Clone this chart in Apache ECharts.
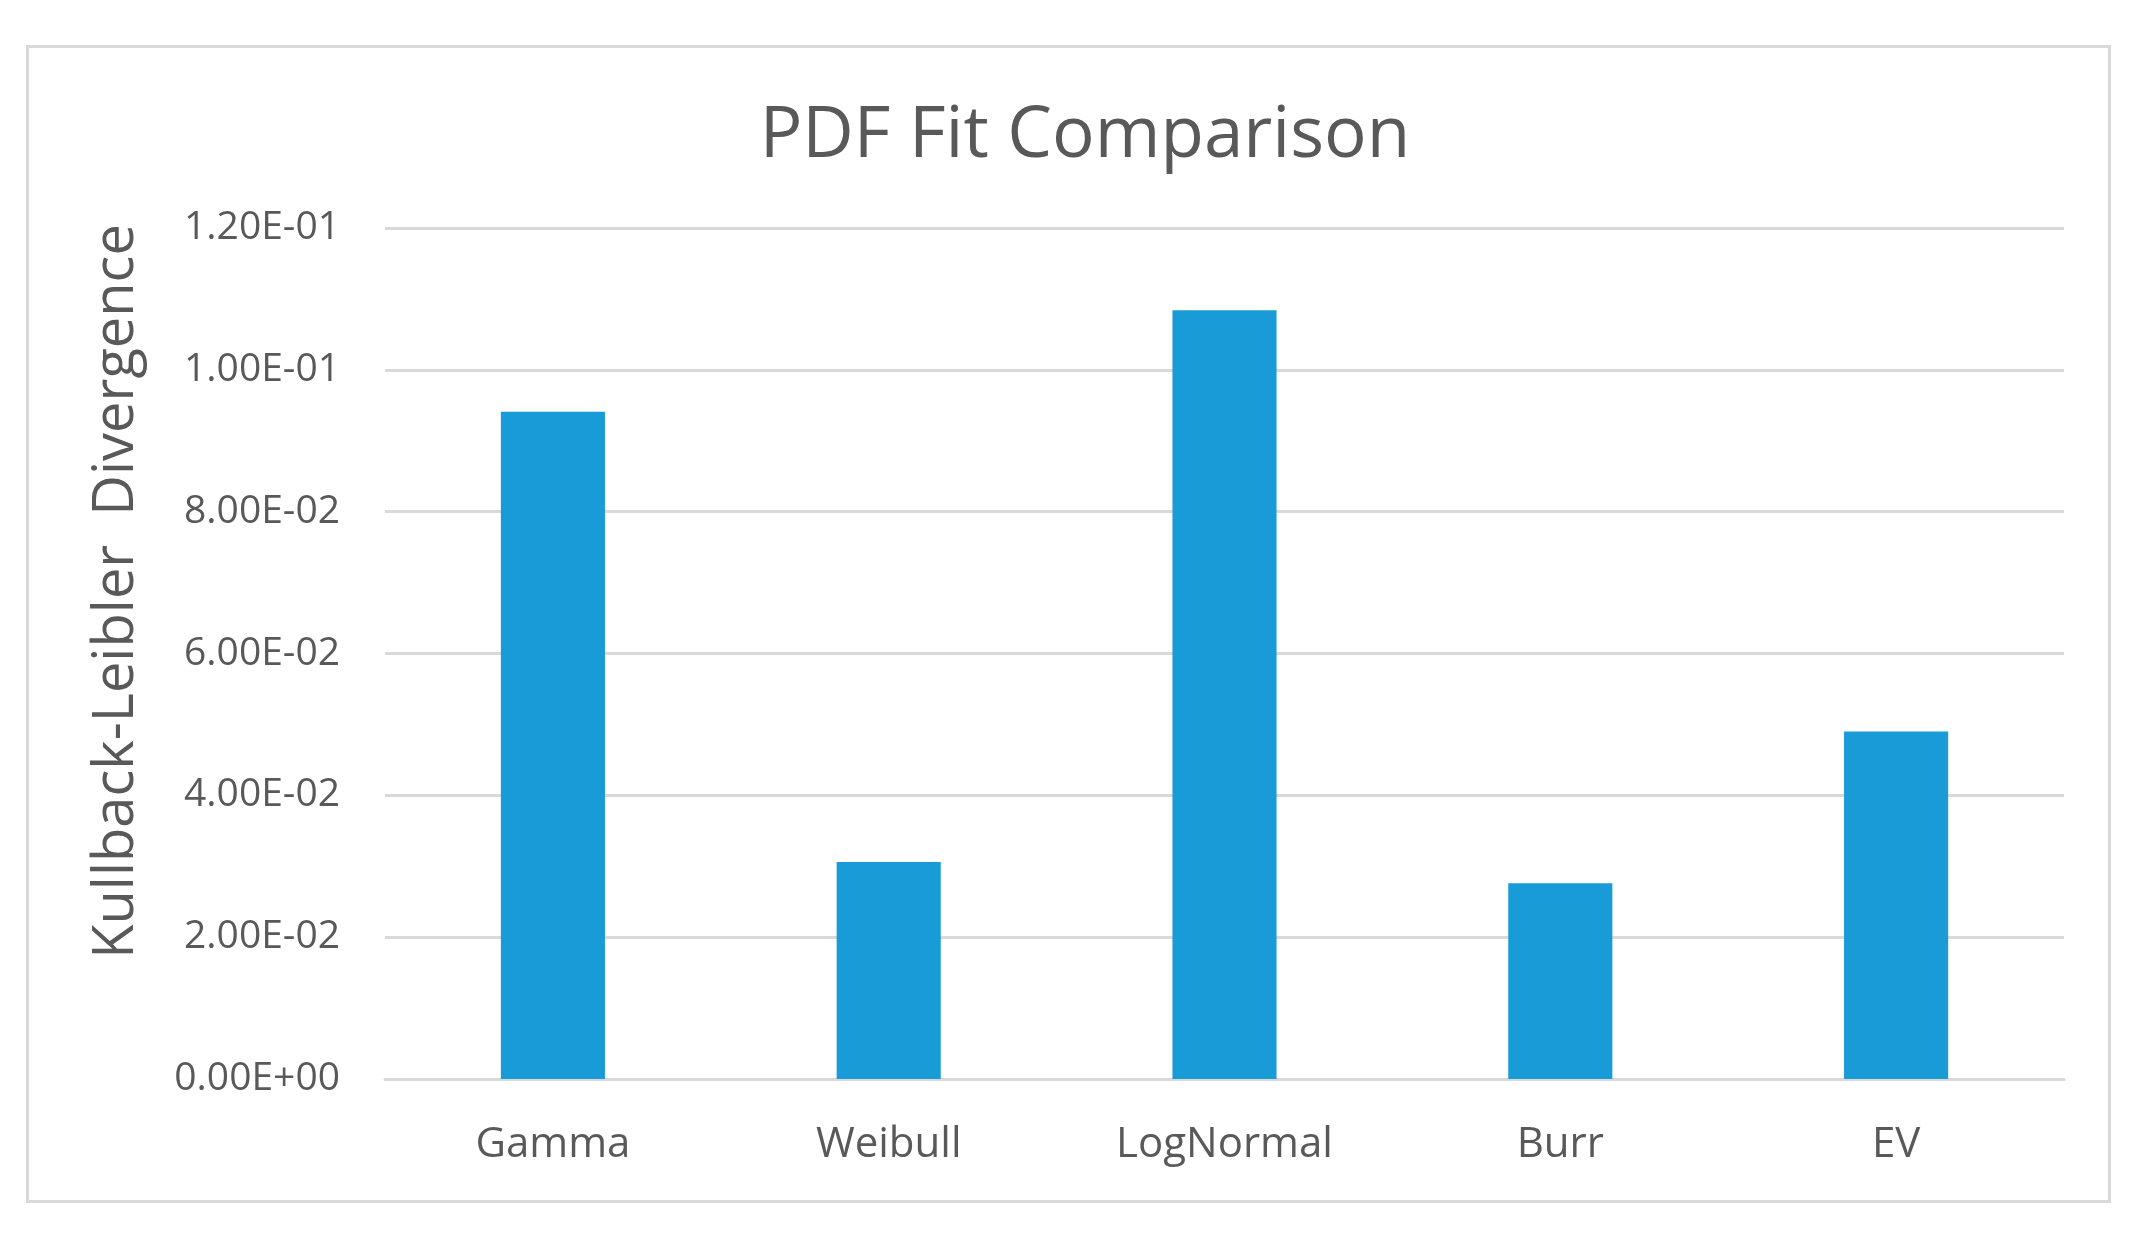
<!DOCTYPE html>
<html>
<head>
<meta charset="utf-8">
<script src="https://cdn.jsdelivr.net/npm/echarts@6/dist/echarts.min.js"></script>
<style>
html,body{margin:0;padding:0;background:#fff;}
#chart{width:2150px;height:1240px;}
</style>
</head>
<body>
<div id="chart"></div>
<script>
const categories = ['Gamma', 'Weibull', 'LogNormal', 'Burr', 'EV'];
const klValues = [0.0941, 0.0306, 0.1084, 0.0276, 0.0490];
const yMin = 0, yMax = 0.12, yStep = 0.02;

function sci(v) {
  const s = Number(v).toExponential(2).toUpperCase();
  const m = s.match(/^(-?[\d.]+)E([+-])(\d+)$/);
  if (!m) return s;
  return m[1] + 'E' + m[2] + (m[3].length < 2 ? '0' + m[3] : m[3]);
}

const FONT = '"Open Sans", "Noto Sans", sans-serif';
const chart = echarts.init(document.getElementById('chart'));
chart.setOption({
  backgroundColor: '#ffffff',
  animation: false,
  title: {
    text: 'PDF Fit Comparison',
    left: 1080, top: 96, textAlign: 'center',
    textStyle: { fontFamily: FONT, fontSize: 71, fontWeight: 'normal', color: '#595959' }
  },
  graphic: [{
    type: 'rect', left: 25, top: 44, silent: true,
    shape: { width: 2082, height: 1155 },
    style: { fill: 'none', stroke: '#d9d9d9', lineWidth: 3 }
  }],
  grid: { left: 385, right: 86, top: 228, bottom: 161 },
  xAxis: {
    type: 'category',
    data: categories,
    axisLine: { show: true, lineStyle: { color: '#d9d9d9', width: 3 } },
    axisTick: { show: false },
    axisLabel: { color: '#595959', fontFamily: FONT, fontSize: 42, margin: 45 }
  },
  yAxis: {
    type: 'value',
    min: yMin, max: yMax, interval: yStep,
    name: 'Kullback-Leibler  Divergence',
    nameLocation: 'middle', nameRotate: 90, nameGap: 240,
    nameTextStyle: { color: '#595959', fontFamily: FONT, fontSize: 56, padding: [0, 0, 0, 124] },
    axisLine: { show: false },
    axisTick: { show: false },
    splitLine: { lineStyle: { color: '#d9d9d9', width: 3 } },
    axisLabel: { color: '#595959', fontFamily: FONT, fontSize: 39, margin: 45, formatter: sci }
  },
  series: [{
    type: 'bar',
    data: klValues,
    barWidth: '31%',
    itemStyle: { color: '#189bd7' }
  }]
});
</script>
</body>
</html>
